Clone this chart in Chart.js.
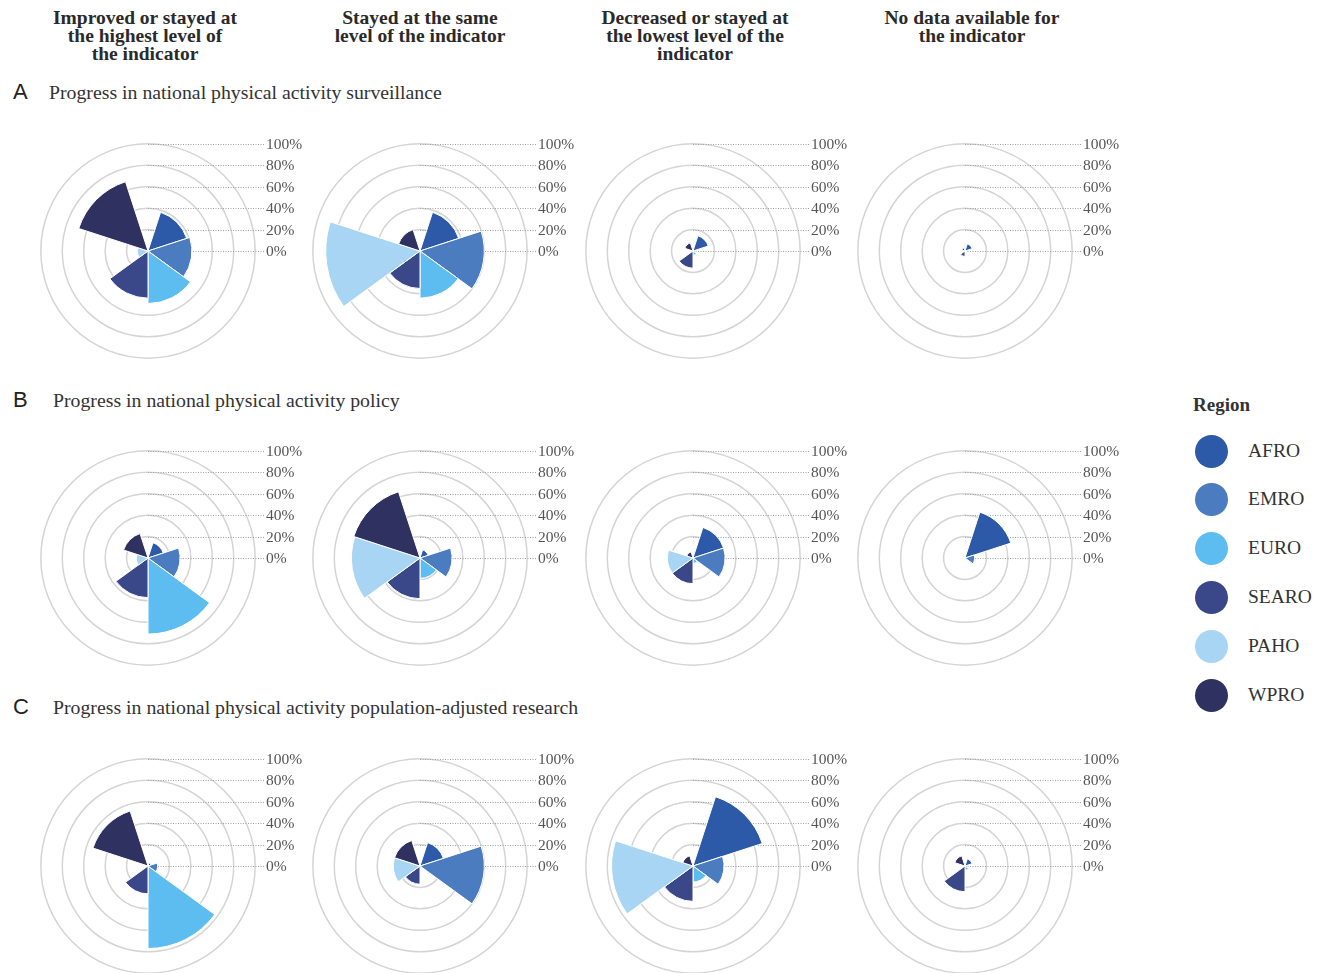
<!DOCTYPE html>
<html>
<head>
<meta charset="utf-8">
<title>Progress in national physical activity indicators</title>
<script src="https://cdn.jsdelivr.net/npm/chart.js@4.4.1/dist/chart.umd.min.js"></script>
<style>
  html, body { margin: 0; padding: 0; background: #fff; overflow: hidden; }
  body { width: 1326px; height: 973px; position: relative; font-family: "Liberation Serif", "Times New Roman", serif; }
  .head { position: absolute; width: 280px; text-align: center; font-weight: bold; font-size: 19.5px; line-height: 18px; color: #2a2a2a; white-space: nowrap; }
  .letter { position: absolute; left: 13px; font-family: "Liberation Sans", Arial, sans-serif; font-size: 22px; line-height: 24px; color: #222; }
  .title { position: absolute; font-size: 19.8px; line-height: 22px; color: #333; white-space: nowrap; }
  canvas { position: absolute; }
  .leg-title { position: absolute; left: 1193px; top: 394px; font-weight: bold; font-size: 19px; line-height: 22px; color: #333; }
  .leg-dot { position: absolute; width: 33px; height: 33px; border-radius: 50%; }
  .leg-text { position: absolute; font-size: 19.5px; line-height: 22px; color: #333; }
</style>
</head>
<body>

<div class="head" style="left:5px; top:9px">Improved or stayed at<br>the highest level of<br>the indicator</div>
<div class="head" style="left:280px; top:9px">Stayed at the same<br>level of the indicator</div>
<div class="head" style="left:555px; top:9px">Decreased or stayed at<br>the lowest level of the<br>indicator</div>
<div class="head" style="left:832px; top:9px">No data available for<br>the indicator</div>

<div class="letter" style="top:80px">A</div>
<div class="title" style="left:49px; top:81px">Progress in national physical activity surveillance</div>
<div class="letter" style="top:388px">B</div>
<div class="title" style="left:53px; top:389px">Progress in national physical activity policy</div>
<div class="letter" style="top:695px">C</div>
<div class="title" style="left:53px; top:696px">Progress in national physical activity population-adjusted research</div>

<div class="leg-title">Region</div>
<div id="legend"></div>

<script>
// regions, in the order they go round each rose (clockwise from the top)
const regions = ['AFRO', 'EMRO', 'EURO', 'SEARO', 'PAHO', 'WPRO'];
const regionColors = ['#2c5aa8', '#4a7cbf', '#5dbdf0', '#3a4889', '#a8d5f3', '#2f3161'];
const tickValues = [0, 20, 40, 60, 80, 100];

// A - surveillance (% of countries per region)
const survImproved = [38, 41, 49, 44, 10, 68];
const survSame     = [38, 60, 44, 35, 88, 21];
const survDecrease = [15, 2, 4, 16, 1, 8];
const survNoData   = [7, 1, 1, 5, 0, 3];

// B - policy
const polImproved = [15, 30, 71, 37, 11, 24];
const polSame     = [8, 30, 19, 38, 64, 65];
const polDecrease = [30, 30, 5, 24, 24, 6];
const polNoData   = [45, 9, 1, 0, 0, 2];

// C - population-adjusted research
const resImproved = [3, 9, 77, 26, 0, 54];
const resSame     = [23, 60, 2, 17, 25, 25];
const resDecrease = [68, 29, 15, 33, 76, 10];
const resNoData   = [7, 2, 4, 24, 0, 10];

const rows = [
  [survImproved, survSame, survDecrease, survNoData],
  [polImproved, polSame, polDecrease, polNoData],
  [resImproved, resSame, resDecrease, resNoData]
];

// dotted leader lines + % labels to the right of each rose
const tickLeaders = {
  id: 'tickLeaders',
  beforeDatasetsDraw(chart) {
    const scale = chart.scales.r;
    const ctx = chart.ctx;
    ctx.save();
    ctx.font = '15.5px "Liberation Serif"';
    ctx.fillStyle = '#555';
    ctx.textBaseline = 'middle';
    ctx.strokeStyle = '#a0a0a0';
    ctx.lineWidth = 1;
    ctx.setLineDash([1, 1.5]);
    scale.ticks.forEach(function(t) {
      const y = Math.round(scale.yCenter - scale.getDistanceFromCenterForValue(t.value)) + 0.5;
      ctx.beginPath();
      ctx.moveTo(scale.xCenter, y);
      ctx.lineTo(scale.xCenter + 116, y);
      ctx.stroke();
      ctx.fillText(t.value + '%', scale.xCenter + 118, y);
    });
    ctx.restore();
  }
};

function makeRose(cx, cy, values) {
  const canvas = document.createElement('canvas');
  canvas.width = 320;
  canvas.height = 240;
  canvas.style.left = (cx - 160) + 'px';
  canvas.style.top = (cy - 120) + 'px';
  document.body.appendChild(canvas);

  new Chart(canvas.getContext('2d'), {
    type: 'polarArea',
    data: {
      labels: regions,
      datasets: [{
        data: values,
        backgroundColor: regionColors,
        borderColor: '#fff',
        borderWidth: 1,
        angle: 54
      }]
    },
    options: {
      responsive: false,
      animation: false,
      layout: { padding: 0 },
      plugins: {
        legend: { display: false },
        tooltip: { enabled: false }
      },
      scales: {
        r: {
          min: 0,
          max: 112,
          startAngle: 18,
          ticks: { display: false, stepSize: 20 },
          afterBuildTicks: function(scale) {
            scale.ticks = tickValues.map(function(v) { return { value: v }; });
          },
          grid: { color: '#d4d4d4', lineWidth: 1.5 }
        }
      }
    },
    plugins: [tickLeaders]
  });
}

document.addEventListener('DOMContentLoaded', function() {
  const colX = [148, 420, 693, 965];
  const rowY = [251, 558, 866];
  rows.forEach(function(row, r) {
    row.forEach(function(values, c) {
      makeRose(colX[c], rowY[r], values);
    });
  });

  // legend
  const legend = document.getElementById('legend');
  const legY = [451, 499, 548, 597, 646, 695];
  regions.forEach(function(name, i) {
    const dot = document.createElement('div');
    dot.className = 'leg-dot';
    dot.style.background = regionColors[i];
    dot.style.left = (1211 - 16) + 'px';
    dot.style.top = (legY[i] - 16) + 'px';
    legend.appendChild(dot);
    const txt = document.createElement('div');
    txt.className = 'leg-text';
    txt.textContent = name;
    txt.style.left = '1248px';
    txt.style.top = (legY[i] - 11) + 'px';
    legend.appendChild(txt);
  });
});
</script>
</body>
</html>
